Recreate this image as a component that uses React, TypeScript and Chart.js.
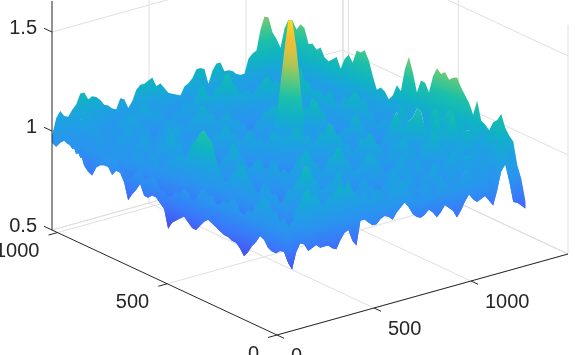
import React, { useEffect, useRef } from "react";
import { Chart, registerables } from "chart.js";

Chart.register(...registerables);

const xTicks = [0, 500, 1000];
const yTicks = [0, 500, 1000];
const zTicks = [0.5, 1, 1.5];
const zTickLabels = ["0.5", "1", "1.5"];
const xLimit = 1500;
const yLimit = 1025;
const zLow = 0.5;
const zHigh = 1.657;
const surfaceX = 1280;
const surfaceY = 1024;

// Height along the far edges of the surface, left to right across the view.
const farEdgeZ = [
  0.98, 1.06, 1.09, 1.06, 1.05, 1.08, 1.1, 1.15, 1.15, 1.11, 1.12, 1.11, 1.09, 1.06, 1.05, 1.03, 1.02, 1.07, 1.06, 1.01,
  1.04, 1.09, 1.11, 1.11, 1.12, 1.13, 1.08, 1.09, 1.06, 1.03, 1.02, 1.01, 1.0, 1.04, 1.05, 1.07, 1.11, 1.11, 1.1, 1.02,
  1.08, 1.11, 1.11, 1.06, 1.06, 1.05, 1.03, 1.02, 1.02, 1.09, 1.11, 1.12, 1.22, 1.28, 1.27, 1.19, 1.15, 1.1, 1.19, 1.23,
  1.22, 1.17, 1.19, 1.18, 1.11, 1.12, 1.1, 1.12, 1.08, 1.07, 1.09, 1.11, 1.06, 1.12, 1.15, 1.12, 1.19, 1.19, 1.21, 1.17,
  1.1, 1.04, 1.06, 1.05, 1.02, 1.05, 1.11, 1.09, 1.21, 1.28, 1.21, 1.12, 1.19, 1.19, 1.15, 1.24, 1.29, 1.27, 1.29, 1.26,
  1.28, 1.29, 1.25, 1.22, 1.19, 1.14, 1.22, 1.13, 1.12, 1.1, 1.15, 1.17, 1.21, 1.15, 1.12, 1.1, 0.99, 0.93, 0.83,
];

// Height along the near edges of the surface, left to right across the view.
const nearEdgeZ = [
  0.94, 0.93, 0.96, 0.98, 0.97, 0.99, 0.94, 0.96, 0.9, 0.88, 0.87, 0.92, 0.94, 0.95, 0.95, 0.92, 0.95, 0.95, 0.91, 0.83,
  0.87, 0.9, 0.94, 0.89, 0.89, 0.91, 0.91, 0.89, 0.87, 0.78, 0.82, 0.84, 0.86, 0.88, 0.86, 0.84, 0.84, 0.87, 0.9, 0.92,
  0.91, 0.9, 0.89, 0.88, 0.88, 0.87, 0.87, 0.85, 0.82, 0.85, 0.89, 0.92, 0.96, 0.95, 0.92, 0.91, 0.91, 0.92, 0.91, 0.85,
  0.81, 0.89, 0.93, 0.92, 0.88, 0.89, 0.9, 0.88, 0.88, 0.88, 0.86, 0.85, 0.89, 0.92, 0.93, 0.87, 0.84, 0.96, 0.96, 0.94,
  0.92, 0.92, 0.94, 0.95, 0.94, 0.92, 0.95, 0.97, 0.99, 0.96, 0.92, 0.9, 0.89, 0.9, 0.92, 0.9, 0.87, 0.89, 0.92, 0.9,
  0.88, 0.84, 0.87, 0.91, 0.94, 0.91, 0.89, 0.9, 0.91, 0.88, 0.85, 0.92, 1.01, 1.04, 0.95, 0.84, 0.83, 0.81, 0.79,
];

// Ridges between the far and the near edge.
const ridgeDepths = [0.16, 0.32, 0.45, 0.6, 0.75, 0.88];
const ridgeA = [
  0.98, 1.02, 1.03, 1.0, 1.02, 1.05, 1.05, 1.03, 1.1, 1.07, 1.06, 1.02, 1.02, 1.03, 1.0, 0.97, 0.98, 1.01, 1.0, 1.03,
  1.03, 1.02, 1.06, 1.07, 1.05, 1.02, 1.02, 1.03, 1.0, 0.97, 0.98, 1.01, 1.0, 1.04, 1.03, 1.02, 1.07, 1.11, 1.1, 1.05,
  1.05, 1.09, 1.09, 1.14, 1.15, 1.1, 1.08, 1.04, 1.04, 1.05, 1.02, 1.05, 1.06, 1.1, 1.1, 1.06, 1.08, 1.04, 1.05, 1.08,
  1.08, 1.12, 1.1, 1.05, 1.05, 1.01, 1.02, 1.03, 1.0, 1.04, 1.03, 0.99, 1.0, 1.04, 1.03, 1.07, 1.08, 1.04, 1.06, 1.01,
  1.0, 0.96, 0.97, 1.0, 0.98, 1.03, 1.03, 1.09, 1.08, 1.02, 1.04, 1.07, 1.06, 1.04, 1.08, 1.13, 1.14, 1.1, 1.12, 1.16,
  1.15, 1.1, 1.12, 1.07, 1.08, 1.12, 1.1, 1.05, 1.06, 1.1, 1.11, 1.16, 1.17, 1.11, 1.08, 1.0, 0.96, 0.9, 0.82,
];
const ridgeB = [
  0.97, 1.0, 1.0, 0.99, 1.02, 1.04, 1.0, 1.05, 1.07, 1.03, 1.03, 1.0, 0.99, 0.95, 0.96, 0.99, 1.0, 1.04, 1.03, 1.06,
  1.07, 1.04, 1.03, 0.99, 0.99, 0.95, 0.96, 1.0, 1.0, 1.03, 1.04, 1.01, 1.02, 0.99, 1.0, 1.04, 1.05, 1.09, 1.1, 1.05,
  1.06, 1.02, 1.02, 1.05, 1.06, 1.02, 1.03, 1.0, 1.0, 0.96, 0.97, 1.01, 1.02, 1.06, 1.05, 1.09, 1.08, 1.04, 1.03, 1.0,
  1.02, 0.98, 1.0, 1.04, 1.05, 1.1, 1.09, 1.05, 1.04, 0.99, 0.99, 0.95, 0.96, 0.99, 1.0, 1.05, 1.07, 1.03, 1.01, 0.96,
  0.94, 0.93, 0.95, 1.0, 1.03, 1.09, 1.13, 1.07, 1.06, 1.1, 1.12, 1.17, 1.16, 1.08, 1.06, 1.11, 1.15, 1.1, 1.08, 1.14,
  1.18, 1.11, 1.07, 1.11, 1.12, 1.06, 1.03, 1.01, 1.02, 1.0, 1.05, 1.1, 1.13, 1.07, 1.04, 0.98, 0.93, 0.87, 0.82,
];
const ridgeC = [
  0.97, 0.96, 0.99, 1.0, 0.98, 0.97, 1.0, 0.96, 0.97, 0.99, 1.0, 1.02, 1.03, 0.99, 1.0, 0.96, 0.97, 1.0, 1.0, 1.04,
  1.03, 0.98, 0.99, 1.03, 1.02, 0.97, 0.98, 1.02, 1.01, 1.05, 1.04, 1.06, 1.03, 0.99, 0.98, 1.01, 1.0, 1.03, 1.04, 1.0,
  1.01, 1.04, 1.03, 1.08, 1.07, 1.03, 1.04, 1.0, 1.02, 1.06, 1.05, 1.01, 1.03, 1.0, 1.02, 1.06, 1.05, 1.02, 1.04, 1.01,
  1.03, 1.06, 1.04, 1.0, 1.02, 0.98, 1.0, 1.04, 1.03, 1.09, 1.08, 1.03, 1.04, 0.99, 1.0, 0.96, 0.99, 1.04, 1.03, 1.07,
  1.06, 1.02, 1.01, 0.96, 0.98, 1.03, 1.02, 1.05, 1.07, 1.01, 1.02, 0.98, 1.0, 1.06, 1.05, 1.11, 1.1, 1.04, 1.03, 0.98,
  1.0, 1.05, 1.06, 1.0, 1.01, 1.05, 1.03, 0.98, 1.0, 1.03, 1.01, 1.06, 1.1, 1.06, 1.03, 0.97, 0.92, 0.86, 0.81,
];
const ridgeD = [
  0.96, 0.95, 0.98, 0.99, 0.97, 0.95, 0.99, 0.97, 0.96, 0.95, 0.98, 1.01, 1.01, 0.98, 0.97, 1.0, 0.99, 1.03, 1.02, 0.98,
  0.98, 1.02, 1.01, 1.05, 1.04, 0.99, 1.0, 1.04, 1.03, 1.07, 1.09, 1.05, 1.04, 0.99, 1.0, 1.03, 1.02, 1.07, 1.06, 1.01,
  1.0, 0.96, 0.98, 1.02, 1.03, 1.09, 1.08, 1.03, 1.02, 0.98, 0.99, 1.03, 1.04, 0.99, 1.0, 1.04, 1.03, 0.98, 0.99, 0.96,
  0.98, 1.01, 1.02, 1.06, 1.05, 1.01, 1.0, 0.96, 0.98, 1.02, 1.03, 1.08, 1.08, 1.03, 1.01, 0.97, 0.97, 1.0, 1.02, 1.06,
  1.05, 1.01, 1.0, 0.96, 0.97, 0.99, 1.0, 1.04, 1.03, 0.98, 0.98, 1.02, 1.01, 0.97, 0.96, 1.0, 1.02, 0.98, 0.99, 1.05,
  1.08, 1.02, 1.0, 1.05, 1.06, 1.0, 0.99, 1.02, 1.01, 0.96, 0.97, 1.03, 1.08, 1.03, 1.0, 0.94, 0.89, 0.85, 0.81,
];
const ridgeE = [
  0.95, 0.97, 0.96, 0.98, 0.98, 0.94, 0.95, 0.92, 0.93, 0.97, 0.96, 0.99, 1.0, 0.95, 0.96, 1.0, 0.98, 0.96, 1.0, 0.97,
  0.97, 1.01, 1.02, 0.98, 0.99, 1.02, 1.01, 0.97, 0.98, 1.03, 1.02, 1.05, 1.06, 1.04, 1.08, 1.13, 1.16, 1.2, 1.22, 1.19,
  1.17, 1.09, 1.04, 0.99, 1.0, 1.04, 1.05, 1.1, 1.09, 1.04, 1.03, 0.98, 0.99, 1.04, 1.03, 0.99, 1.0, 0.95, 0.97, 1.01,
  1.0, 1.04, 1.05, 1.11, 1.1, 1.05, 1.03, 0.98, 0.98, 1.02, 1.0, 1.05, 1.06, 0.99, 1.0, 0.95, 0.96, 1.0, 1.02, 0.97,
  0.98, 0.93, 0.95, 0.99, 0.99, 1.04, 1.03, 0.98, 0.99, 1.03, 1.01, 0.95, 0.96, 1.01, 1.0, 1.05, 1.04, 0.98, 0.97, 1.01,
  1.0, 0.94, 0.95, 1.01, 1.03, 0.96, 0.97, 1.02, 1.0, 0.93, 0.94, 1.02, 1.06, 1.05, 0.98, 0.92, 0.87, 0.83, 0.8,
];
const ridgeF = [
  0.95, 0.94, 0.97, 0.99, 0.97, 0.95, 0.96, 0.92, 0.92, 0.89, 0.91, 0.94, 0.95, 0.98, 0.97, 0.99, 0.97, 0.93, 0.93, 0.9,
  0.92, 0.95, 0.97, 0.93, 0.94, 0.97, 0.95, 0.91, 0.91, 0.89, 0.9, 0.93, 0.93, 0.96, 0.95, 0.92, 0.93, 0.98, 1.0, 0.97,
  0.98, 0.94, 0.95, 0.98, 0.97, 1.01, 1.0, 0.95, 0.94, 0.98, 0.97, 1.02, 1.04, 1.07, 1.06, 1.01, 1.02, 0.97, 0.98, 0.93,
  0.95, 1.0, 1.03, 1.08, 1.1, 1.05, 1.06, 1.01, 1.0, 1.04, 1.03, 1.07, 1.08, 1.06, 1.1, 1.05, 1.02, 1.0, 1.03, 0.99,
  1.0, 1.03, 1.02, 0.97, 0.99, 1.03, 1.02, 1.05, 1.04, 0.99, 0.98, 0.95, 0.96, 1.01, 1.0, 0.95, 0.98, 1.03, 1.01, 0.97,
  0.96, 1.0, 0.99, 1.04, 1.03, 0.98, 0.99, 0.95, 0.98, 0.93, 0.9, 0.96, 1.05, 1.05, 0.96, 0.9, 0.85, 0.82, 0.8,
];

// The tall central peak, on the same column grid.
const peakDepth = 0.45;
const peakFirstColumn = 55;
const peakZ = [1.05, 1.13, 1.29, 1.46, 1.61, 1.6, 1.46, 1.26, 1.07];
const peakBaseZ = [1.0, 1.0, 1.0, 1.0, 1.0, 1.0, 1.0, 1.0, 1.0];

// Colour map: height, colour.
const mapHeights = [0.72, 0.85, 0.95, 1.05, 1.13, 1.22, 1.3, 1.38, 1.46, 1.52, 1.62];
const mapColors = ["#4a48ec", "#3a78fa", "#2a94f0", "#1ca2e0", "#10b2c4", "#1cc0a8", "#58c880", "#a8c658", "#e0c040", "#f8bd30", "#fbe018"];

const COLUMNS = 472; // horizontal span of the surface across the view
const WIDTH = 575;
const HEIGHT = 355;
const GRID = "#dfdfdf";
const INK = "#262626";

function project(x: number, y: number, z: number) {
  return {
    x: 277 + (291 / xLimit) * x - (225 / yLimit) * y,
    y: 335 - (81 / xLimit) * x - (105 / yLimit) * y - 198 * (z - zLow),
  };
}

// Ground position for a fraction u across the view at depth t (0 far, 1 near).
function ground(u: number, t: number) {
  const far = (229 + 19) / COLUMNS;
  const near = 225 / COLUMNS;
  const fx = u <= far ? (surfaceX * u) / far : surfaceX;
  const fy = u <= far ? surfaceY : surfaceY * (1 - (u - far) / (1 - far));
  const nx = u <= near ? 0 : (surfaceX * (u - near)) / (1 - near);
  const ny = u <= near ? surfaceY * (1 - u / near) : 0;
  return { x: fx + (nx - fx) * t, y: fy + (ny - fy) * t };
}

function pointAt(u: number, t: number, z: number) {
  const g = ground(u, t);
  return project(g.x, g.y, z);
}

function rowPoints(values: number[], t: number, from: number, to: number) {
  const out: { x: number; y: number }[] = [];
  const n = values.length - 1;
  values.forEach((z, i) => {
    const u = i / n;
    const next = (i + 1) / n;
    const prev = (i - 1) / n;
    if (next >= from && prev <= to) out.push(pointAt(Math.min(1, u), t, z));
  });
  return out;
}

function armGradient(ctx: CanvasRenderingContext2D, t: number, u0: number, u1: number) {
  const a = pointAt(u0, t, zLow);
  const b = pointAt(u1, t, zLow);
  const slope = (b.y - a.y) / (b.x - a.x);
  const zMin = mapHeights[0];
  const zMax = mapHeights[mapHeights.length - 1];
  const start = pointAt(u0, t, zMin);
  const lambda = (198 * (zMax - zMin)) / (slope * slope + 1);
  const g = ctx.createLinearGradient(start.x, start.y, start.x + lambda * slope, start.y - lambda);
  mapHeights.forEach((z, i) => g.addColorStop((z - zMin) / (zMax - zMin), mapColors[i]));
  return g;
}

function path(points: { x: number; y: number }[], color: string, order: number, width = 1) {
  return {
    data: points,
    showLine: true,
    borderColor: color,
    borderWidth: width,
    pointRadius: 0,
    fill: false,
    order,
  };
}

function patch(points: { x: number; y: number }[], fillStyle: CanvasGradient, order: number) {
  return {
    data: points,
    showLine: true,
    borderWidth: 0,
    borderColor: "rgba(0,0,0,0)",
    backgroundColor: fillStyle,
    pointRadius: 0,
    fill: "shape",
    order,
  };
}

function buildDatasets(ctx: CanvasRenderingContext2D) {
  const sets: any[] = [];
  const P = (x: number, y: number, z: number) => project(x, y, z);

  // Walls and floor grid
  for (const z of zTicks) {
    sets.push(path([P(0, yLimit, z), P(xLimit, yLimit, z), P(xLimit, 0, z)], GRID, 5000));
  }
  for (const x of [...xTicks.slice(1), xLimit]) {
    sets.push(path([P(x, 0, zLow), P(x, yLimit, zLow), P(x, yLimit, zHigh + 0.4)], GRID, 5000));
  }
  for (const y of yTicks) {
    sets.push(path([P(0, y, zLow), P(xLimit, y, zLow), P(xLimit, y, zHigh + (y === 0 ? 0 : 0.4))], GRID, 5000));
  }
  sets.push(path([P(0, yLimit, zLow), P(xLimit, yLimit, zLow), P(xLimit, 0, zLow)], GRID, 5000));
  sets.push(path([P(xLimit, yLimit, zLow), P(xLimit, yLimit, zHigh + 0.4)], GRID, 5000));

  // Surface, far to near. Each patch runs one row past the next one, so the
  // following patch paints over its lower edge and leaves no seam.
  const rows = [farEdgeZ, ridgeA, ridgeB, ridgeC, ridgeD, ridgeE, ridgeF, nearEdgeZ];
  const depths = [0, ...ridgeDepths, 1];
  for (let k = 0; k < rows.length - 1; k++) {
    const t = (depths[k] + depths[k + 1]) / 2;
    const arms = [
      [0, 0.5],
      [0.5, 1],
    ];
    const lowerIndex = Math.min(k + 2, rows.length - 1);
    arms.forEach(([a, b], armIndex) => {
      const upper = rowPoints(rows[k], depths[k], a, b);
      const lower = rowPoints(rows[lowerIndex], depths[lowerIndex], a, b).reverse();
      sets.push(patch([...upper, ...lower], armGradient(ctx, t, a, b), 4000 - k * 10 - armIndex));
    });
    if (depths[k + 1] === peakDepth) {
      const n = farEdgeZ.length - 1;
      const top = peakZ.map((z, i) => pointAt((peakFirstColumn + i) / n, peakDepth, z));
      const base = peakBaseZ.map((z, i) => pointAt((peakFirstColumn + i) / n, peakDepth, z)).reverse();
      sets.push(patch([...top, ...base], armGradient(ctx, peakDepth, 0.5, 1), 4000 - k * 10 - 5));
    }
  }

  // Axes and ticks
  sets.push(path([P(0, yLimit, zLow), P(0, yLimit, zHigh)], INK, 1));
  sets.push(path([P(0, yLimit, zLow), P(0, 0, zLow), P(xLimit, 0, zLow)], INK, 1));
  for (const z of zTicks) sets.push(path([P(0, yLimit, z), P(0, yLimit + 36, z)], INK, 1));
  for (const y of yTicks) sets.push(path([P(0, y, zLow), P(-46, y, zLow)], INK, 1));
  for (const x of xTicks) sets.push(path([P(x, 0, zLow), P(x, -32, zLow)], INK, 1));
  return sets;
}

const tickText = {
  id: "tickText",
  afterDraw(chart: any) {
    const ctx = chart.ctx as CanvasRenderingContext2D;
    ctx.save();
    ctx.font = '20px "Liberation Sans", Arial, sans-serif';
    ctx.fillStyle = INK;
    ctx.textBaseline = "middle";
    ctx.textAlign = "right";
    zTicks.forEach((z, i) => {
      const p = project(0, yLimit, z);
      ctx.fillText(zTickLabels[i], p.x - 15, p.y - 4);
    });
    yTicks.forEach((y) => {
      const p = project(0, y, zLow);
      ctx.fillText(String(y), p.x - 18, p.y + 19);
    });
    ctx.textAlign = "left";
    xTicks.forEach((x) => {
      const p = project(x, 0, zLow);
      ctx.fillText(String(x), p.x + 14, p.y + 21);
    });
    ctx.restore();
  },
};

export default function App() {
  const ref = useRef<HTMLCanvasElement | null>(null);
  useEffect(() => {
    document.body.style.margin = "0";
    document.body.style.background = "#fff";
    const canvas = ref.current!;
    const ctx = canvas.getContext("2d")!;
    const chart = new Chart(ctx, {
      type: "scatter",
      data: { datasets: buildDatasets(ctx) },
      plugins: [tickText],
      options: {
        animation: false,
        responsive: false,
        layout: { padding: 0 },
        plugins: { legend: { display: false }, tooltip: { enabled: false } },
        elements: { line: { tension: 0 } },
        scales: {
          x: { type: "linear", display: false, min: 0, max: WIDTH },
          y: { type: "linear", display: false, min: 0, max: HEIGHT, reverse: true },
        },
      },
    } as any);
    return () => chart.destroy();
  }, []);
  return <canvas ref={ref} width={WIDTH} height={HEIGHT} style={{ display: "block" }} />;
}
